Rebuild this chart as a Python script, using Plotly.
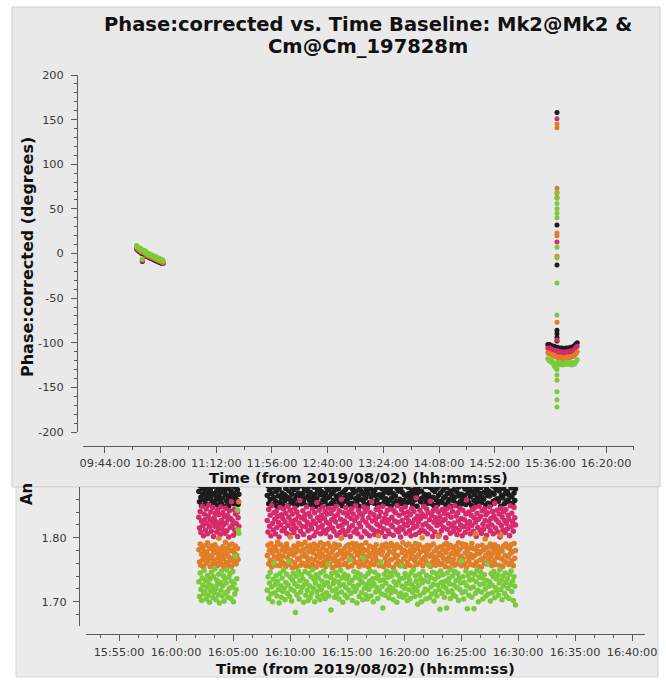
import datetime as dt
import plotly.graph_objects as go

# ---------------------------------------------------------------------------
# Data
# ---------------------------------------------------------------------------
OBS_DAY = dt.datetime(2019, 8, 2)

# Phase (degrees), scan 1: samples every 45 s from 10:09:00
scan1_start, scan1_step = "10:09:00", 45
scan1_black = [5, 4, 3, 2, 2, 0, -9, 0, -1, -1, -3, -3, -4, -4, -5, -5, -6, -6, -7, -7, -8, -8, -9, -9, -10, -10, -11, -11, -11]
scan1_pink = [6, 5, 4, 3, 3, 1, -8, 1, 0, 0, -2, -2, -3, -3, -4, -4, -5, -5, -6, -6, -7, -7, -8, -8, -9, -9, -10, -10, -11]
scan1_orange = [7, 6, 5, 4, 4, 2, -7, 2, 1, 1, -1, -1, -2, -2, -3, -3, -4, -4, -5, -5, -6, -6, -7, -7, -8, -8, -9, -9, -10]
scan1_green = [9, 7, 7, 5, 6, 3, -6, 4, 2, 3, 0, 1, -1, 0, -2, -1, -3, -2, -4, -3, -5, -4, -6, -5, -7, -6, -8, -7, -8]

# Phase (degrees), scan 2: samples every 45 s from 15:34:00
scan2_start, scan2_step = "15:34:00", 45
scan2_black = [-102, -103, -102, -104, -103, -104, -105, -104, -105, -106, -105, -106, -107, -106, -107, -106,
               -107, -108, -107, -106, -107, -106, -107, -106, -105, -106, -105, -104, -104, -102, -101, -100]
scan2_pink = [-106, -107, -106, -108, -107, -108, -109, -108, -109, -110, -109, -110, -111, -110, -111, -110,
              -111, -112, -111, -110, -111, -110, -111, -110, -109, -110, -109, -108, -108, -106, -105, -104]
scan2_orange = [-111, -112, -112, -113, -113, -114, -115, -114, -115, -116, -116, -117, -117, -116, -118, -117,
                -117, -118, -117, -116, -117, -116, -117, -116, -116, -116, -115, -115, -114, -113, -112, -110]
scan2_green = [-118, -120, -119, -121, -122, -121, -124, -126, -128, -124, -122, -123, -125, -122, -124, -123,
               -125, -124, -123, -124, -122, -123, -124, -122, -123, -125, -122, -123, -124, -122, -121, -119]

# Phase (degrees) of the scattered channels in the 15:41:15 integration
burst_time = "15:41:15"
burst_black = [158, 32, -13, -86, -90, -94, -98]
burst_pink = [151, 13, -97]
burst_orange = [145, 141, 73, 68, 63, 23, 20, -3, -77]
burst_green = [68, 62, 56, 50, 45, 40, 7, -5, -33, -69, -130, -136, -142, -155, -164, -172]

# Amplitude (x 0.001), block 1: samples every 3.5 s from 16:02:00
amp1_start, amp1_step = "16:02:00", 3.5
amp1_black = [
    1872, 1856, 1881, 1863, 1850, 1877, 1868, 1885, 1859, 1874, 1853, 1866,
    1879, 1861, 1887, 1870, 1852, 1875, 1864, 1883, 1857, 1869, 1880, 1855,
    1867, 1884, 1860, 1873, 1851, 1878, 1865, 1886, 1858, 1871, 1854, 1876,
    1862, 1882, 1849, 1874, 1868, 1888, 1857, 1877, 1863, 1850, 1880, 1866,
    1873, 1855, 1884, 1861, 1870, 1853, 1879, 1865, 1886, 1859, 1875, 1852,
    1868]
amp1_pink = [
    1832, 1815, 1841, 1808, 1826, 1849, 1819, 1803, 1837, 1828, 1812, 1845,
    1822, 1806, 1834, 1851, 1817, 1829, 1840, 1810, 1824, 1847, 1802, 1831,
    1818, 1838, 1825, 1809, 1843, 1814, 1836, 1821, 1805, 1848, 1827, 1813,
    1839, 1820, 1833, 1807, 1846, 1823, 1811, 1835, 1829, 1801, 1842, 1816,
    1830, 1856, 1819, 1826, 1804, 1844, 1812, 1837, 1822, 1809, 1840, 1831,
    1818]
amp1_orange = [
    1781, 1762, 1790, 1757, 1774, 1785, 1766, 1754, 1779, 1770, 1788, 1760,
    1776, 1792, 1764, 1771, 1783, 1755, 1768, 1787, 1773, 1759, 1780, 1765,
    1789, 1761, 1777, 1784, 1756, 1769, 1799, 1775, 1763, 1782, 1758, 1772,
    1786, 1767, 1753, 1778, 1793, 1761, 1774, 1784, 1757, 1770, 1788, 1764,
    1779, 1755, 1790, 1768, 1781, 1762, 1775, 1787, 1759, 1772, 1783, 1766,
    1856]
amp1_green = [
    1731, 1708, 1745, 1719, 1702, 1737, 1726, 1712, 1749, 1715, 1733, 1704,
    1722, 1741, 1710, 1728, 1699, 1736, 1717, 1746, 1724, 1706, 1739, 1714,
    1751, 1720, 1703, 1734, 1727, 1711, 1743, 1698, 1730, 1718, 1748, 1709,
    1725, 1740, 1701, 1735, 1713, 1729, 1750, 1716, 1707, 1738, 1721, 1744,
    1705, 1732, 1723, 1747, 1700, 1728, 1712, 1771, 1719, 1736, 1843, 1812,
    1807]

# Amplitude (x 0.001), block 2: samples every 3.9 s from 16:08:00
amp2_start, amp2_step = "16:08:00", 3.9
amp2_black = [
    1866, 1881, 1853, 1874, 1860, 1887, 1869, 1851, 1878, 1863, 1884, 1857,
    1872, 1849, 1880, 1865, 1876, 1855, 1886, 1862, 1870, 1852, 1883, 1867,
    1858, 1877, 1864, 1888, 1850, 1873, 1861, 1882, 1856, 1868, 1879, 1854,
    1875, 1860, 1885, 1866, 1851, 1878, 1870, 1857, 1884, 1863, 1853, 1881,
    1869, 1855, 1876, 1862, 1887, 1850, 1873, 1865, 1880, 1858, 1871, 1852,
    1883, 1864, 1857, 1879, 1868, 1849, 1886, 1861, 1874, 1854, 1877, 1867,
    1851, 1872, 1882, 1859, 1866, 1885, 1856, 1870, 1878, 1862, 1850, 1875,
    1864, 1887, 1853, 1869, 1880, 1858, 1873, 1852, 1884, 1865, 1876, 1860,
    1877, 1855, 1868, 1883, 1862, 1850, 1871, 1886, 1857, 1874, 1866, 1881,
    1859, 1879, 1852, 1867, 1885, 1863, 1854, 1876, 1870, 1851, 1882, 1861,
    1873, 1856, 1888, 1865, 1849, 1878, 1860, 1872, 1884, 1858, 1868, 1853,
    1880, 1862, 1875, 1851, 1869, 1886, 1855, 1877, 1864, 1883, 1857, 1871,
    1854, 1874, 1866, 1881, 1859, 1850, 1879, 1867, 1852, 1885, 1863, 1876,
    1868, 1887, 1856, 1872, 1861, 1878, 1853, 1882, 1870, 1858, 1875, 1849,
    1862, 1880, 1869, 1854, 1884, 1865, 1857, 1877, 1851, 1873, 1886, 1860,
    1876, 1853, 1871, 1883, 1858, 1867, 1850, 1881, 1864, 1855, 1879, 1869,
    1857, 1885, 1863, 1874, 1852, 1870, 1888, 1859, 1876, 1866, 1849, 1878,
    1871, 1860, 1882, 1856, 1873, 1862, 1884, 1851, 1868, 1880, 1858, 1865,
    1883, 1854, 1867, 1879, 1861, 1886, 1853, 1875, 1863, 1850, 1872, 1887,
    1859, 1877, 1852, 1866, 1881, 1857, 1870, 1885, 1855, 1874, 1862, 1880,
    1864, 1851, 1878, 1869, 1856, 1883, 1860, 1873, 1849, 1867, 1884, 1858,
    1875, 1863, 1886, 1854, 1871, 1850, 1879, 1865, 1882, 1857, 1868, 1853,
    1861, 1880, 1866, 1876, 1852, 1887, 1859, 1870, 1855, 1877, 1864, 1881,
    1850, 1872, 1884, 1858, 1867, 1879, 1853, 1874, 1862, 1885, 1856, 1869,
    1878, 1855, 1863, 1882, 1860, 1871, 1888, 1851, 1876, 1866, 1854, 1873,
    1865, 1886, 1852, 1870, 1881, 1857, 1868, 1879, 1859, 1875, 1883, 1861,
    1857, 1873, 1880, 1849, 1866, 1884, 1862, 1877, 1853, 1869, 1887, 1856,
    1872, 1859, 1867, 1885, 1854, 1878, 1864, 1851, 1882, 1870, 1858, 1876]
amp2_pink = [
    1827, 1809, 1844, 1818, 1835, 1803, 1850, 1822, 1812, 1839, 1829, 1806,
    1841, 1816, 1833, 1824, 1801, 1847, 1820, 1836, 1811, 1830, 1845, 1814,
    1825, 1838, 1807, 1849, 1819, 1832, 1804, 1843, 1826, 1813, 1837, 1821,
    1808, 1846, 1828, 1815, 1840, 1802, 1834, 1823, 1858, 1810, 1831, 1818,
    1842, 1805, 1829, 1836, 1817, 1848, 1824, 1811, 1838, 1800, 1833, 1820,
    1814, 1845, 1826, 1803, 1839, 1822, 1809, 1855, 1831, 1816, 1843, 1827,
    1806, 1835, 1819, 1848, 1812, 1830, 1841, 1807, 1824, 1837, 1813, 1846,
    1821, 1801, 1838, 1828, 1815, 1844, 1810, 1833, 1825, 1849, 1804, 1836,
    1818, 1842, 1808, 1829, 1860, 1820, 1812, 1839, 1826, 1805, 1847, 1823,
    1834, 1811, 1840, 1816, 1802, 1830, 1845, 1819, 1837, 1809, 1827, 1850,
    1813, 1832, 1806, 1843, 1822, 1838, 1817, 1801, 1835, 1828, 1848, 1810,
    1841, 1824, 1807, 1846, 1819, 1831, 1803, 1839, 1815, 1856, 1826, 1812,
    1836, 1805, 1829, 1844, 1821, 1810, 1847, 1833, 1818, 1840, 1808, 1825,
    1849, 1814, 1830, 1802, 1837, 1823, 1843, 1811, 1828, 1806, 1845, 1820,
    1832, 1817, 1804, 1842, 1826, 1839, 1812, 1850, 1824, 1809, 1835, 1816,
    1801, 1844, 1827, 1813, 1838, 1821, 1848, 1807, 1831, 1819, 1840, 1826,
    1811, 1836, 1803, 1846, 1823, 1815, 1841, 1829, 1805, 1862, 1818, 1834,
    1825, 1808, 1843, 1830, 1812, 1837, 1820, 1849, 1810, 1833, 1822, 1845,
    1806, 1839, 1817, 1828, 1857, 1814, 1835, 1802, 1842, 1824, 1809, 1831,
    1847, 1819, 1826, 1840, 1804, 1833, 1821, 1811, 1844, 1827, 1816, 1838,
    1829, 1800, 1845, 1813, 1836, 1822, 1848, 1807, 1832, 1818, 1841, 1810,
    1823, 1850, 1815, 1834, 1805, 1839, 1826, 1812, 1846, 1820, 1830, 1803,
    1843, 1817, 1828, 1808, 1837, 1859, 1822, 1814, 1840, 1825, 1806, 1835,
    1819, 1844, 1810, 1831, 1847, 1824, 1802, 1838, 1816, 1829, 1849, 1812,
    1833, 1807, 1842, 1821, 1813, 1845, 1827, 1836, 1804, 1839, 1818, 1826,
    1848, 1811, 1830, 1820, 1841, 1806, 1834, 1854, 1815, 1828, 1843, 1809,
    1824, 1837, 1801, 1846, 1819, 1832, 1812, 1840, 1827, 1808, 1844, 1822,
    1814, 1835, 1829, 1803, 1850, 1817, 1838, 1825, 1810, 1847, 1831, 1820]
amp2_orange = [
    1772, 1788, 1759, 1780, 1765, 1791, 1754, 1776, 1784, 1762, 1770, 1786,
    1757, 1779, 1793, 1767, 1774, 1756, 1789, 1763, 1781, 1771, 1760, 1785,
    1778, 1755, 1790, 1769, 1783, 1758, 1775, 1801, 1764, 1780, 1753, 1773,
    1787, 1761, 1777, 1754, 1784, 1768, 1791, 1766, 1779, 1757, 1789, 1771,
    1760, 1782, 1774, 1793, 1756, 1770, 1786, 1763, 1778, 1755, 1788, 1767,
    1781, 1758, 1776, 1790, 1765, 1783, 1754, 1772, 1787, 1761, 1779, 1769,
    1792, 1757, 1775, 1784, 1762, 1789, 1770, 1755, 1780, 1766, 1791, 1773,
    1759, 1786, 1768, 1777, 1753, 1782, 1764, 1790, 1771, 1756, 1785, 1774,
    1763, 1788, 1757, 1779, 1799, 1767, 1775, 1758, 1783, 1770, 1760, 1787,
    1776, 1754, 1789, 1765, 1781, 1772, 1756, 1791, 1768, 1784, 1762, 1778,
    1790, 1761, 1773, 1786, 1755, 1779, 1766, 1788, 1759, 1774, 1782, 1757,
    1769, 1792, 1763, 1780, 1771, 1754, 1787, 1775, 1760, 1785, 1767, 1777,
    1758, 1783, 1770, 1789, 1764, 1776, 1803, 1756, 1781, 1762, 1774, 1788,
    1779, 1755, 1786, 1768, 1790, 1761, 1773, 1784, 1757, 1778, 1765, 1791,
    1766, 1787, 1753, 1775, 1782, 1769, 1759, 1789, 1772, 1763, 1785, 1756,
    1784, 1760, 1777, 1792, 1767, 1780, 1755, 1771, 1788, 1762, 1776, 1790,
    1757, 1781, 1768, 1774, 1786, 1754, 1779, 1764, 1791, 1770, 1758, 1783,
    1773, 1789, 1761, 1778, 1766, 1800, 1756, 1785, 1769, 1780, 1763, 1775,
    1788, 1759, 1782, 1771, 1755, 1787, 1774, 1762, 1790, 1767, 1779, 1757,
    1770, 1784, 1764, 1802, 1776, 1758, 1786, 1772, 1760, 1781, 1768, 1789,
    1755, 1777, 1791, 1763, 1783, 1769, 1753, 1788, 1775, 1761, 1785, 1766,
    1780, 1757, 1773, 1787, 1759, 1778, 1792, 1765, 1782, 1771, 1756, 1790,
    1767, 1786, 1760, 1776, 1789, 1754, 1781, 1770, 1763, 1784, 1774, 1758,
    1791, 1769, 1783, 1757, 1772, 1806, 1762, 1779, 1787, 1755, 1775, 1765,
    1778, 1754, 1788, 1768, 1781, 1760, 1798, 1773, 1759, 1785, 1766, 1777,
    1762, 1790, 1771, 1756, 1784, 1776, 1764, 1789, 1758, 1780, 1769, 1786,
    1774, 1757, 1782, 1804, 1767, 1779, 1755, 1787, 1763, 1772, 1790, 1761,
    1785, 1770, 1758, 1783, 1775, 1789, 1764, 1778, 1756, 1791, 1768, 1780]
amp2_green = [
    1718, 1739, 1705, 1729, 1746, 1712, 1723, 1700, 1735, 1760, 1714, 1727,
    1741, 1709, 1732, 1719, 1698, 1744, 1725, 1707, 1737, 1716, 1749, 1721,
    1703, 1730, 1743, 1713, 1726, 1763, 1708, 1738, 1720, 1701, 1734, 1745,
    1717, 1728, 1683, 1740, 1711, 1724, 1748, 1704, 1733, 1715, 1742, 1722,
    1736, 1699, 1727, 1747, 1710, 1731, 1718, 1702, 1744, 1725, 1706, 1739,
    1713, 1750, 1721, 1735, 1700, 1729, 1742, 1716, 1708, 1737, 1724, 1703,
    1745, 1719, 1732, 1711, 1748, 1726, 1705, 1740, 1714, 1730, 1758, 1709,
    1723, 1738, 1687, 1744, 1717, 1728, 1734, 1707, 1746, 1720, 1712, 1741,
    1731, 1704, 1725, 1749, 1715, 1737, 1699, 1727, 1743, 1710, 1722, 1736,
    1706, 1740, 1718, 1729, 1766, 1713, 1733, 1702, 1724, 1747, 1716, 1738,
    1720, 1698, 1745, 1726, 1708, 1735, 1742, 1714, 1730, 1703, 1768, 1721,
    1739, 1711, 1727, 1704, 1744, 1719, 1732, 1748, 1709, 1725, 1736, 1700,
    1728, 1746, 1715, 1737, 1722, 1705, 1741, 1717, 1733, 1761, 1712, 1724,
    1690, 1734, 1743, 1710, 1729, 1748, 1718, 1738, 1706, 1723, 1745, 1714,
    1740, 1720, 1703, 1731, 1747, 1716, 1726, 1699, 1742, 1730, 1709, 1736,
    1713, 1756, 1724, 1707, 1737, 1721, 1744, 1711, 1728, 1702, 1739, 1719,
    1734, 1705, 1745, 1727, 1715, 1750, 1722, 1708, 1740, 1732, 1717, 1696,
    1725, 1743, 1710, 1736, 1700, 1729, 1747, 1714, 1733, 1720, 1704, 1741,
    1718, 1731, 1757, 1706, 1738, 1723, 1712, 1746, 1727, 1701, 1735, 1716,
    1744, 1709, 1726, 1739, 1719, 1688, 1748, 1730, 1713, 1742, 1724, 1707,
    1732, 1721, 1690, 1745, 1715, 1736, 1728, 1705, 1750, 1717, 1740, 1711,
    1726, 1747, 1708, 1733, 1722, 1744, 1702, 1737, 1719, 1729, 1764, 1714,
    1739, 1704, 1730, 1716, 1748, 1725, 1689, 1741, 1710, 1734, 1721, 1745,
    1707, 1735, 1723, 1689, 1743, 1713, 1731, 1749, 1718, 1700, 1738, 1727,
    1746, 1715, 1737, 1704, 1728, 1742, 1720, 1709, 1733, 1759, 1712, 1724,
    1731, 1701, 1744, 1726, 1714, 1739, 1747, 1706, 1722, 1736, 1717, 1742,
    1710, 1729, 1750, 1719, 1734, 1703, 1740, 1725, 1713, 1745, 1730, 1708,
    1736, 1721, 1705, 1743, 1727, 1748, 1716, 1732, 1702, 1739, 1724, 1695]

# Axis ticks
phase_ticks = [-200, -150, -100, -50, 0, 50, 100, 150, 200]
amp_ticks = [1.70, 1.80]

# ---------------------------------------------------------------------------
# Helpers
# ---------------------------------------------------------------------------
W, H = 666, 680


def px(x):
    return x / W


def py(y):
    return 1 - y / H


def at(hms):
    h, m, s = (float(v) for v in hms.split(":"))
    return OBS_DAY + dt.timedelta(hours=h, minutes=m, seconds=s)


def sample_times(start, step_s, n):
    t0 = at(start)
    return [t0 + dt.timedelta(seconds=step_s * i) for i in range(n)]


COLORS = {"black": "#1c1c1c", "pink": "#d62a6a", "orange": "#e07d26", "green": "#7acb3a"}
TICK_FONT = dict(family="DejaVu Sans", size=11.3, color="#3a3a3a")
AXIS_COLOR = "#5a5a5a"

fig = go.Figure()

# Phase vs time (upper plot)
phase_series = {
    "black": (scan1_black, scan2_black, burst_black),
    "pink": (scan1_pink, scan2_pink, burst_pink),
    "orange": (scan1_orange, scan2_orange, burst_orange),
    "green": (scan1_green, scan2_green, burst_green),
}
for name, (s1, s2, burst) in phase_series.items():
    xs = (sample_times(scan1_start, scan1_step, len(s1))
          + sample_times(scan2_start, scan2_step, len(s2))
          + [at(burst_time)] * len(burst))
    fig.add_trace(go.Scatter(
        x=xs, y=s1 + s2 + burst, mode="markers", xaxis="x", yaxis="y",
        marker=dict(size=5, color=COLORS[name], line=dict(width=0)),
        showlegend=False, hoverinfo="skip"))

# Amplitude vs time (lower plot)
amp_series = {
    "black": (amp1_black, amp2_black),
    "pink": (amp1_pink, amp2_pink),
    "orange": (amp1_orange, amp2_orange),
    "green": (amp1_green, amp2_green),
}
for name, (a1, a2) in amp_series.items():
    xs = sample_times(amp1_start, amp1_step, len(a1)) + sample_times(amp2_start, amp2_step, len(a2))
    ys = [v / 1000 for v in a1 + a2]
    fig.add_trace(go.Scatter(
        x=xs, y=ys, mode="markers", xaxis="x2", yaxis="y2",
        marker=dict(size=5.5, color=COLORS[name], line=dict(width=0)),
        showlegend=False, hoverinfo="skip"))

common_axis = dict(
    showgrid=False, zeroline=False, showline=True, linecolor=AXIS_COLOR, linewidth=1,
    ticks="outside", ticklen=6, tickwidth=1, tickcolor=AXIS_COLOR, tickfont=TICK_FONT,
    anchor="free", automargin=False,
)

fig.update_layout(
    width=W, height=H, margin=dict(l=0, r=0, t=0, b=0, autoexpand=False),
    paper_bgcolor="white", plot_bgcolor="rgba(0,0,0,0)",
    xaxis=dict(
        **common_axis, type="date", domain=[px(83), px(634)], position=py(446),
        range=[at("09:26:37"), at("16:42:08")],
        tick0=at("09:44:00"), dtick=44 * 60 * 1000, tickformat="%H:%M:%S",
        minor=dict(ticks="outside", ticklen=3, tickcolor=AXIS_COLOR, dtick=22 * 60 * 1000,
                   tick0=at("09:44:00")),
    ),
    yaxis=dict(
        **common_axis, domain=[py(432), py(75)], position=px(77), range=[-200, 200],
        tickmode="array", tickvals=phase_ticks, ticktext=[str(v) for v in phase_ticks],
        ticklabelstandoff=5,
        minor=dict(ticks="outside", ticklen=3, tickcolor=AXIS_COLOR, dtick=10, tick0=0),
    ),
    xaxis2=dict(
        **common_axis, type="date", domain=[px(86), px(645)], position=py(634),
        range=[at("15:52:06"), at("16:41:08")], ticklabelstandoff=1,
        tick0=at("15:55:00"), dtick=5 * 60 * 1000, tickformat="%H:%M:%S",
        minor=dict(ticks="outside", ticklen=3, tickcolor=AXIS_COLOR, dtick=100 * 1000,
                   tick0=at("15:55:00")),
    ),
    yaxis2=dict(
        **common_axis, domain=[py(626), py(487)], position=px(79), range=[1.662, 1.8792],
        tickmode="array", tickvals=amp_ticks, ticktext=[f"{v:.2f}" for v in amp_ticks],
        ticklabelstandoff=4,
        minor=dict(ticks="outside", ticklen=3, tickcolor=AXIS_COLOR, dtick=0.02, tick0=1.70),
    ),
)

# Panel backgrounds
fig.add_shape(type="rect", xref="paper", yref="paper", layer="below",
              x0=px(12), x1=px(660), y0=py(487), y1=py(7),
              fillcolor="#e9e9e9", line=dict(color="#cfcfcf", width=1))
fig.add_shape(type="rect", xref="paper", yref="paper", layer="below",
              x0=px(16), x1=px(658), y0=py(677), y1=py(487),
              fillcolor="#ebebeb", line=dict(color="#d4d4d4", width=1))

TITLE_FONT = dict(family="DejaVu Sans", color="#111111", weight="bold")


def label(text, x, y, size, angle=0, xanchor="center", yanchor="middle"):
    fig.add_annotation(text=text, x=px(x), y=py(y), xref="paper", yref="paper",
                       showarrow=False, textangle=angle, xanchor=xanchor, yanchor=yanchor,
                       font=dict(size=size, **TITLE_FONT))


label("Phase:corrected vs. Time Baseline: Mk2@Mk2 &", 368, 25, 19.5)
label("Cm@Cm_197828m", 368, 47, 19.5)
label("Phase:corrected (degrees)", 27, 257, 16, angle=-90)
label("Time (from 2019/08/02) (hh:mm:ss)", 358.5, 478, 14.9)
label("An", 27, 507, 15, angle=-90, yanchor="bottom")
label("Time (from 2019/08/02) (hh:mm:ss)", 365.5, 668.5, 14.9)

fig.write_html("out.html")
